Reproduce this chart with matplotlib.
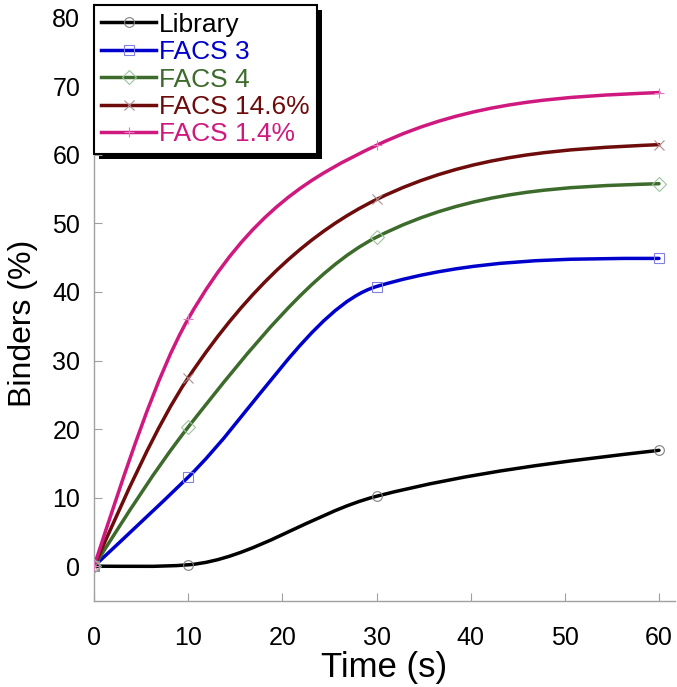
import numpy as np
import matplotlib
matplotlib.use('Agg')
import matplotlib.pyplot as plt
from matplotlib.path import Path
from matplotlib.patches import PathPatch, Rectangle

plt.rcParams['font.family'] = ['Liberation Sans', 'DejaVu Sans']

# --- Data ---
time_s = [0, 10, 30, 60]
series_names = ['Library', 'FACS 3', 'FACS 4', 'FACS 14.6%', 'FACS 1.4%']
library = [0, 0.2, 10.2, 16.9]
facs_3 = [0, 13.0, 40.8, 44.9]
facs_4 = [0, 20.3, 48.0, 55.8]
facs_14_6 = [0, 27.5, 53.5, 61.5]
facs_1_4 = [0, 36.1, 61.4, 69.1]

line_colors = ['#000000', '#0000cc', '#3c6b2c', '#6e0b0b', '#d0197f']
marker_colors = ['#808080', '#8080e0', '#9cc49c', '#b08a8a', '#e07cc0']
markers = ['o', 's', 'D', 'x', '+']


def smooth_path(xs, ys):
    """ Smoothed line through the points (cubic Hermite drawn as Beziers) """
    x = np.asarray(xs, float)
    y = np.asarray(ys, float)
    h = np.diff(x)
    d = np.diff(y) / h
    m = np.zeros_like(y)
    for i in range(1, len(y) - 1):
        parab = (h[i] * d[i - 1] + h[i - 1] * d[i]) / (h[i - 1] + h[i])
        harm = 0.0
        if d[i - 1] * d[i] > 0:
            w1, w2 = 2 * h[i] + h[i - 1], h[i] + 2 * h[i - 1]
            harm = (w1 + w2) / (w1 / d[i - 1] + w2 / d[i])
        # keep the slope within 3x of the next chord so nothing overshoots
        if d[i] * parab > 0:
            m[i] = np.sign(d[i]) * min(abs(0.5 * (parab + harm)), 3 * abs(d[i]))
        else:
            m[i] = 0.5 * (parab + harm)
    # "natural" ends, kept the same sign as the end chord
    m[0] = (3 * d[0] - m[1]) / 2
    m[-1] = (3 * d[-1] - m[-2]) / 2
    for k, dk in ((0, d[0]), (-1, d[-1])):
        if m[k] * dk < 0:
            m[k] = 0.0
    verts = [(x[0], y[0])]
    codes = [Path.MOVETO]
    for i in range(len(h)):
        verts += [(x[i] + h[i] / 3, y[i] + m[i] * h[i] / 3),
                  (x[i + 1] - h[i] / 3, y[i + 1] - m[i + 1] * h[i] / 3),
                  (x[i + 1], y[i + 1])]
        codes += [Path.CURVE4] * 3
    return Path(verts, codes)


fig = plt.figure(figsize=(6.77, 6.87), dpi=100)
ax = fig.add_axes([0.139, 0.125, 0.858, 0.869])
ax.set_facecolor('none')

all_series = [library, facs_3, facs_4, facs_14_6, facs_1_4]
handles = []
for name, ys, lc, mc, mk in zip(series_names, all_series, line_colors, marker_colors, markers):
    ax.add_patch(PathPatch(smooth_path(time_s, ys), fill=False, edgecolor=lc,
                           lw=2.5, capstyle='round', zorder=3))
    ax.plot(time_s, ys, linestyle='none', marker=mk, markersize=7,
            markerfacecolor='none', markeredgecolor=mc, markeredgewidth=0.8, zorder=4)
    # proxy for the legend
    h, = ax.plot([], [], color=lc, lw=2.5, marker=mk, markersize=7,
                 markerfacecolor='none', markeredgecolor=mc, markeredgewidth=0.8)
    handles.append(h)

ax.set_xlim(0, 61.7)
ax.set_ylim(-5.1, 82)
ax.set_xticks(range(0, 61, 10))
ax.set_yticks(range(0, 81, 10))

for side in ['top', 'right']:
    ax.spines[side].set_visible(False)
for side in ['left', 'bottom']:
    ax.spines[side].set_color('#a0a0a0')
    ax.spines[side].set_linewidth(1.0)

ax.tick_params(axis='both', direction='in', length=6, width=0.8, color='#a0a0a0',
               labelsize=18)
ax.tick_params(axis='x', pad=18)
ax.tick_params(axis='y', pad=10)

ax.set_xlabel('Time (s)', fontsize=25)
ax.set_ylabel('Binders (%)', fontsize=23)
ax.xaxis.set_label_coords(0.5, -0.084)
ax.yaxis.set_label_coords(-0.097, 0.466)

leg = ax.legend(handles, series_names, loc='upper left', bbox_to_anchor=(0.0, 0.998),
                fontsize=19, frameon=True, fancybox=False, edgecolor='black',
                handlelength=2.05, handletextpad=0.12, labelspacing=0.13,
                borderpad=0.28, borderaxespad=0.0)
leg.get_frame().set_linewidth(1.5)
leg.get_frame().set_alpha(1)
for txt, c in zip(leg.get_texts(), line_colors):
    txt.set_color(c)

# black drop shadow behind the legend box
fig.canvas.draw()
bb = leg.get_window_extent()
fig.add_artist(Rectangle((bb.x0 + 5, bb.y0 - 5), bb.width, bb.height,
                         transform=None, facecolor='black', edgecolor='none', zorder=-1))

fig.savefig('out.png', dpi=100)
